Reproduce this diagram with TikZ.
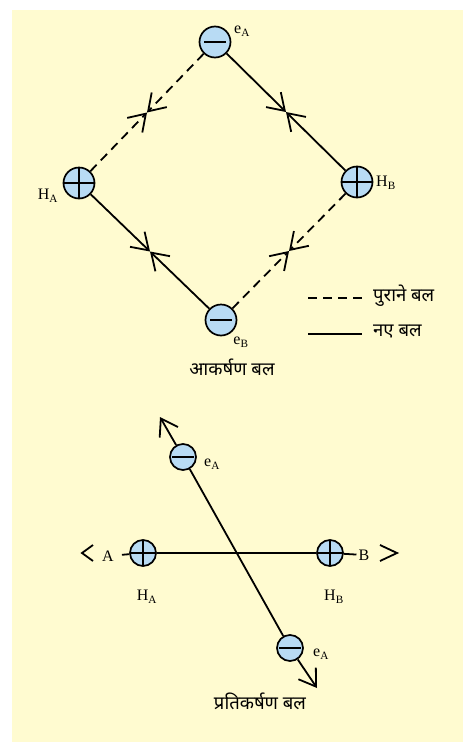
\documentclass[tikz,border=0pt]{standalone}
\usepackage{fontspec}
\setmainfont{Liberation Serif}
\newfontfamily\hindi[Script=Devanagari]{Noto Sans}
\usetikzlibrary{arrows.meta,positioning,calc}
\definecolor{paper}{HTML}{FFFBD0}
\definecolor{ionblue}{HTML}{B8DBF4}

\begin{document}
\begin{tikzpicture}[x=1pt, y=-1pt,
  ion/.style={circle, draw, line width=1.7pt, fill=ionblue, inner sep=0pt, minimum size=31pt},
  proton/.style={ion, path picture={
      \draw[line width=1.6pt] ([xshift=-20pt]path picture bounding box.center) -- ([xshift=20pt]path picture bounding box.center)
                              ([yshift=-20pt]path picture bounding box.center) -- ([yshift=20pt]path picture bounding box.center);}},
  electron/.style={ion, path picture={
      \draw[line width=1.6pt] ([xshift=-11pt]path picture bounding box.center) -- ([xshift=11pt]path picture bounding box.center);}},
  lbl/.style={font=\fontsize{16}{18}\selectfont, inner sep=1pt},
  hinditext/.style={font=\hindi\fontsize{18.5}{21}\selectfont, inner sep=1pt},
  oldforce/.style={line width=1.8pt, dash pattern=on 9pt off 6pt},
  newforce/.style={line width=1.8pt},
  >={Straight Barb[length=16pt,width=21pt,line width=1.8pt]}]
\fill[paper] (12,10) rectangle (463,742);
\useasboundingbox (0,0) rectangle (463,742);
% attraction
\node[electron] (eA) at (215,42) {};
\node[proton] (HA) at (79,183) {};
\node[proton] (HB) at (357,182) {};
\node[electron] (eB) at (221,320) {};
\node[lbl] (eAl) at (242,31) {e\textsubscript{A}};
\node[lbl] (HAl) at (48,196) {H\textsubscript{A}};
\node[lbl] (HBl) at (386,183) {H\textsubscript{B}};
\node[lbl] (eBl) at (241,342) {e\textsubscript{B}};
\coordinate (m1) at ($(eA)!0.5!(HA)$);
\coordinate (m2) at ($(eA)!0.5!(HB)$);
\coordinate (m3) at ($(HA)!0.5!(eB)$);
\coordinate (m4) at ($(HB)!0.5!(eB)$);
\draw[oldforce,->] (eA) -- (m1); \draw[oldforce,->] (HA) -- (m1);
\draw[newforce,->] (eA) -- (m2); \draw[newforce,->] (HB) -- (m2);
\draw[newforce,->] (HA) -- (m3); \draw[newforce,->] (eB) -- (m3);
\draw[oldforce,->] (HB) -- (m4); \draw[oldforce,->] (eB) -- (m4);
% legend
\node[hinditext, anchor=west] (oldtxt) at (372,296) {पुराने बल};
\node[hinditext, anchor=west] (newtxt) at (372,332) {नए बल};
\coordinate (oldkey) at (308,298);
\coordinate (newkey) at (308,334);
\draw[oldforce, shorten >=10pt] (oldkey) -- (oldkey -| oldtxt.west);
\draw[newforce, shorten >=10pt] (newkey) -- (newkey -| newtxt.west);
\node[hinditext] (attract) at (232,367) {आकर्षण बल};
% repulsion
\begin{scope}[ion/.append style={minimum size=26pt}]
\node[proton] (HA2) at (143,553) {};
\node[proton] (HB2) at (330,553) {};
\node[electron] (eT) at (183,457) {};
\node[electron] (eD) at (290,648) {};
\end{scope}
\node[lbl] (A) at (108,556) {A};
\node[lbl] (B) at (364,555) {B};
\node[lbl] (HA2l) at (147,597) {H\textsubscript{A}};
\node[lbl] (HB2l) at (334,597) {H\textsubscript{B}};
\node[lbl] (eTl) at (212,464) {e\textsubscript{A}};
\node[lbl] (eDl) at (321,654) {e\textsubscript{A}};
\coordinate (tipL) at (82,553);
\coordinate (tipR) at (397,553);
\coordinate (tipT) at (160,417);
\coordinate (tipD) at (317,688);
\draw[newforce] (HA2) -- (HB2);
\draw[newforce, shorten <=7pt] (A) -- (HA2);
\draw[newforce, shorten >=1pt] (HB2) -- (B);
\draw[newforce] ($(tipL)+(11,-8)$) -- (tipL) -- ($(tipL)+(11,8)$);
\draw[newforce] ($(tipR)+(-17,-8)$) -- (tipR) -- ($(tipR)+(-17,8)$);
\draw[newforce] (eT) -- (eD);
\draw[newforce,->] (eT) -- (tipT);
\draw[newforce,->] (eD) -- (tipD);
\node[hinditext] (repel) at (260,701) {प्रतिकर्षण बल};
\end{tikzpicture}
\end{document}
